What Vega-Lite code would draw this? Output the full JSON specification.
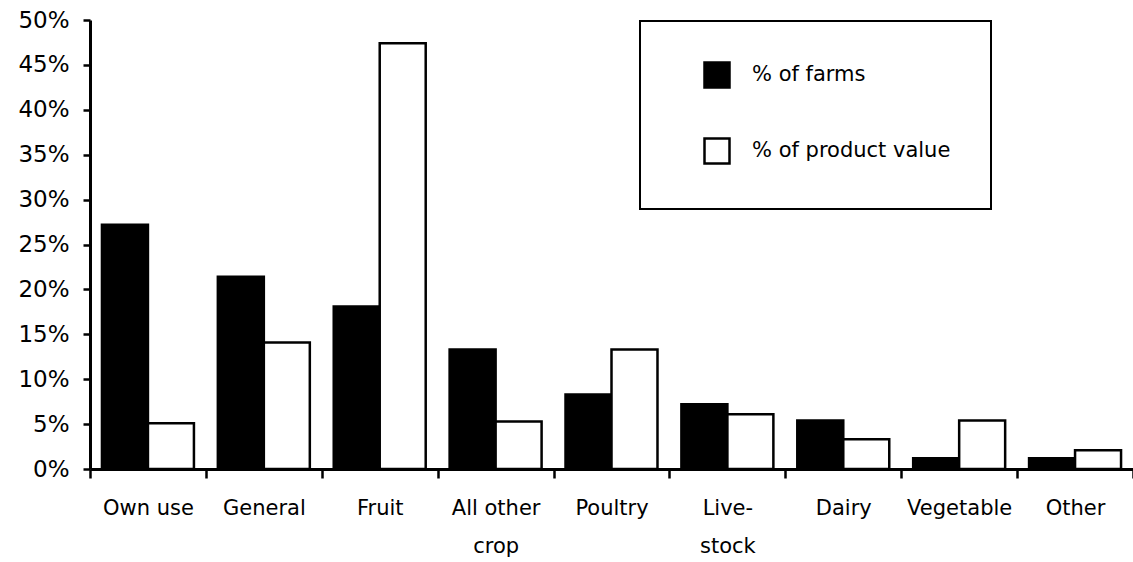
{
  "$schema": "https://vega.github.io/schema/vega-lite/v6.json",
  "autosize": {"type": "none"},
  "padding": {"left": 90, "top": 20, "right": 0, "bottom": 93},
  "width": 1043,
  "height": 449,
  "background": "white",
  "data": {
    "values": [
      {"category": "Own use", "series": "% of farms", "pct": 27.2},
      {"category": "Own use", "series": "% of product value", "pct": 5.1},
      {"category": "General", "series": "% of farms", "pct": 21.4},
      {"category": "General", "series": "% of product value", "pct": 14.1},
      {"category": "Fruit", "series": "% of farms", "pct": 18.1},
      {"category": "Fruit", "series": "% of product value", "pct": 47.4},
      {"category": "All other crop", "series": "% of farms", "pct": 13.3},
      {"category": "All other crop", "series": "% of product value", "pct": 5.3},
      {"category": "Poultry", "series": "% of farms", "pct": 8.3},
      {"category": "Poultry", "series": "% of product value", "pct": 13.3},
      {"category": "Livestock", "series": "% of farms", "pct": 7.2},
      {"category": "Livestock", "series": "% of product value", "pct": 6.1},
      {"category": "Dairy", "series": "% of farms", "pct": 5.4},
      {"category": "Dairy", "series": "% of product value", "pct": 3.3},
      {"category": "Vegetable", "series": "% of farms", "pct": 1.2},
      {"category": "Vegetable", "series": "% of product value", "pct": 5.4},
      {"category": "Other", "series": "% of farms", "pct": 1.2},
      {"category": "Other", "series": "% of product value", "pct": 2.1}
    ]
  },
  "mark": {"type": "bar", "stroke": "black", "strokeWidth": 2.5},
  "encoding": {
    "x": {
      "field": "category",
      "type": "nominal",
      "sort": null,
      "title": null,
      "scale": {"paddingInner": 0, "paddingOuter": 0},
      "axis": {
        "labelAngle": 0,
        "labelFont": "DejaVu Sans",
        "labelFontSize": 21,
        "labelColor": "black",
        "labelPadding": 19,
        "labelLineHeight": 38,
        "labelExpr": "datum.label == 'All other crop' ? ['All other', 'crop'] : datum.label == 'Livestock' ? ['Live-', 'stock'] : datum.label",
        "tickBand": "extent",
        "tickSize": 9,
        "tickWidth": 2.5,
        "tickColor": "black",
        "domainColor": "black",
        "domainWidth": 3
      }
    },
    "xOffset": {
      "field": "series",
      "type": "nominal",
      "scale": {"paddingInner": 0, "paddingOuter": 0.26}
    },
    "y": {
      "field": "pct",
      "type": "quantitative",
      "title": null,
      "scale": {"domain": [0, 50], "nice": false},
      "axis": {
        "values": [0, 5, 10, 15, 20, 25, 30, 35, 40, 45, 50],
        "labelExpr": "datum.value + '%'",
        "labelFont": "DejaVu Sans",
        "labelFontSize": 23,
        "labelColor": "black",
        "labelPadding": 14,
        "tickSize": 7,
        "tickWidth": 2.5,
        "tickColor": "black",
        "domainColor": "black",
        "domainWidth": 3,
        "grid": false
      }
    },
    "fill": {
      "field": "series",
      "type": "nominal",
      "scale": {"range": ["#000000", "#ffffff"]},
      "legend": {
        "title": null,
        "orient": "none",
        "legendX": 550,
        "legendY": 1,
        "padding": 40,
        "symbolOffset": 23,
        "symbolType": "square",
        "symbolSize": 625,
        "symbolStrokeColor": "black",
        "symbolStrokeWidth": 2.5,
        "labelFont": "DejaVu Sans",
        "labelFontSize": 21,
        "labelLimit": 400,
        "labelColor": "black",
        "labelOffset": 21,
        "rowPadding": 40,
        "strokeColor": "black",
        "fillColor": "white",
        "encode": {"legend": {"update": {"strokeWidth": {"value": 2}}}}
      }
    }
  },
  "config": {"view": {"stroke": null}}
}
